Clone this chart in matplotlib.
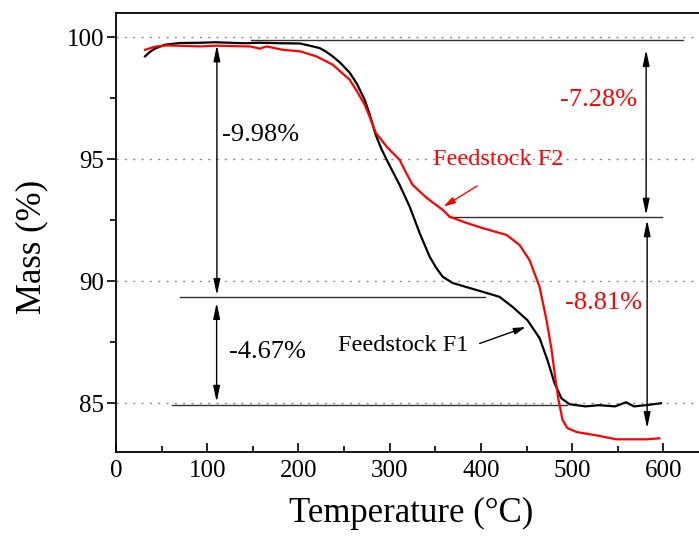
import matplotlib
matplotlib.use('Agg')
import matplotlib.pyplot as plt
from matplotlib.ticker import MultipleLocator

plt.rcParams['font.family'] = ['Liberation Serif', 'DejaVu Serif']

# TGA curves, temperature (°C) vs remaining mass (%)
t_f1 = [31.8, 37.0, 42.7, 53.7, 70.1, 92.0, 108.4, 124.8, 141.2, 157.7, 179.6, 201.5,
        212.4, 223.4, 230.0, 237.6, 246.0, 256.2, 264.0, 272.6, 278.0, 284.7, 291.0,
        297.8, 304.0, 310.9, 321.9, 332.8, 343.8, 351.0, 358.0, 369.0, 384.3, 401.8,
        420.5, 434.7, 451.1, 464.3, 473.0, 480.7, 488.3, 497.1, 514.6, 529.5, 547.0,
        559.1, 567.8, 581.0, 597.4]
m_f1 = [99.22, 99.40, 99.54, 99.70, 99.77, 99.78, 99.80, 99.78, 99.76, 99.78, 99.76, 99.75,
        99.66, 99.56, 99.42, 99.22, 98.95, 98.55, 98.10, 97.44, 96.85, 96.00, 95.42,
        94.90, 94.45, 93.95, 93.06, 91.98, 91.01, 90.55, 90.19, 89.93, 89.76, 89.57,
        89.36, 88.95, 88.40, 87.67, 86.76, 85.82, 85.20, 84.96, 84.87, 84.92, 84.87,
        85.04, 84.87, 84.92, 85.00]

t_f2 = [31.8, 42.7, 55.5, 75.6, 92.0, 110.3, 130.3, 146.7, 157.7, 165.0, 182.9,
        201.5, 219.8, 237.6, 246.0, 256.2, 264.0, 272.6, 278.0, 284.7, 297.8, 310.9,
        318.0, 325.2, 340.5, 358.0, 365.7, 384.3, 401.8, 428.1, 442.3, 453.3, 464.3,
        471.9, 477.5, 481.8, 485.1, 489.5, 494.9, 504.8, 526.7, 548.6, 581.0, 595.6]
m_f2 = [99.49, 99.62, 99.67, 99.65, 99.63, 99.66, 99.64, 99.63, 99.54, 99.63, 99.49,
        99.43, 99.22, 98.88, 98.60, 98.26, 97.80, 97.24, 96.75, 96.09, 95.47, 94.98,
        94.45, 93.95, 93.42, 92.93, 92.65, 92.39, 92.18, 91.90, 91.49, 90.87, 89.77,
        88.41, 87.18, 85.95, 85.13, 84.31, 83.98, 83.82, 83.68, 83.52, 83.52, 83.56]

# step levels and their spans
levels = [99.88, 92.65, 89.36, 84.94]
level_spans = [(147.5, 621.0), (364.6, 599.0), (70.0, 405.0), (61.0, 494.0)]

# mass-loss arrows: x, y_start, y_end
steps = [(110.6, 99.68, 89.43), (110.3, 89.12, 85.05),
         (581.1, 99.49, 92.72), (582.2, 92.51, 83.97)]
step_labels = ['-9.98%', '-4.67%', '-7.28%', '-8.81%']

fig = plt.figure(figsize=(6.99, 5.39), dpi=100)
ax = fig.add_axes([116/699, 87/539, 593/699, 439/539])

for yg in [85, 90, 95, 100]:
    ax.axhline(yg, color='#8c8c8c', lw=1.0, ls=(0, (1.5, 4.5)), zorder=0)

for lv, (xa, xb) in zip(levels, level_spans):
    ax.plot([xa, xb], [lv, lv], color='#333333', lw=1.0, zorder=1)

ax.plot(t_f1, m_f1, color='black', lw=1.6, zorder=3)
ax.plot(t_f2, m_f2, color='#ff0000', lw=1.6, zorder=3)

for x, ya, yb in steps:
    ax.annotate('', xy=(x, yb), xytext=(x, ya),
                arrowprops=dict(arrowstyle='<|-|>,head_length=0.95,head_width=0.2',
                                color='black', lw=1.0, shrinkA=0, shrinkB=0))

ax.text(116, 96.0, step_labels[0], fontsize=19, color='black', ha='left', va='center')
ax.text(123.7, 87.1, step_labels[1], fontsize=19, color='black', ha='left', va='center')
ax.text(571.5, 97.44, step_labels[2], fontsize=19, color='#ff0000', ha='right', va='center')
ax.text(577, 89.1, step_labels[3], fontsize=19, color='#ff0000', ha='right', va='center')

ax.text(348, 95.0, 'Feedstock F2', fontsize=17.5, color='#ff0000', ha='left', va='center')
ax.text(243, 87.38, 'Feedstock F1', fontsize=17.5, color='black', ha='left', va='center')

ax.annotate('', xy=(359, 93.06), xytext=(396, 93.91),
            arrowprops=dict(arrowstyle='-|>,head_length=0.7,head_width=0.2',
                            color='#ff0000', lw=1.0, shrinkA=0, shrinkB=0))
ax.annotate('', xy=(449, 88.12), xytext=(398.6, 87.45),
            arrowprops=dict(arrowstyle='-|>,head_length=0.7,head_width=0.2',
                            color='black', lw=1.0, shrinkA=0, shrinkB=0))

ax.set_xlim(0, 650)
ax.set_ylim(83, 101)
ax.xaxis.set_major_locator(MultipleLocator(100))
ax.xaxis.set_minor_locator(MultipleLocator(50))
ax.yaxis.set_major_locator(MultipleLocator(5))
ax.yaxis.set_minor_locator(MultipleLocator(2.5))
ax.tick_params(axis='x', which='both', direction='in', labelsize=18, pad=6)
ax.tick_params(axis='y', which='both', direction='out', labelsize=18, pad=2)
ax.tick_params(which='major', length=6.5, width=1.2)
ax.tick_params(which='minor', length=4.5, width=1.2)
for sp in ax.spines.values():
    sp.set_linewidth(1.3)

ax.set_xlabel('Temperature (°C)', fontsize=25)
ax.set_ylabel('Mass (%)', fontsize=25)
ax.xaxis.set_label_coords((411 - 116) / 593, -(497 - 452) / 439)
ax.yaxis.set_label_coords(-(116 - 48) / 593, (452 - 247) / 439)

fig.savefig('out.png', dpi=100)
